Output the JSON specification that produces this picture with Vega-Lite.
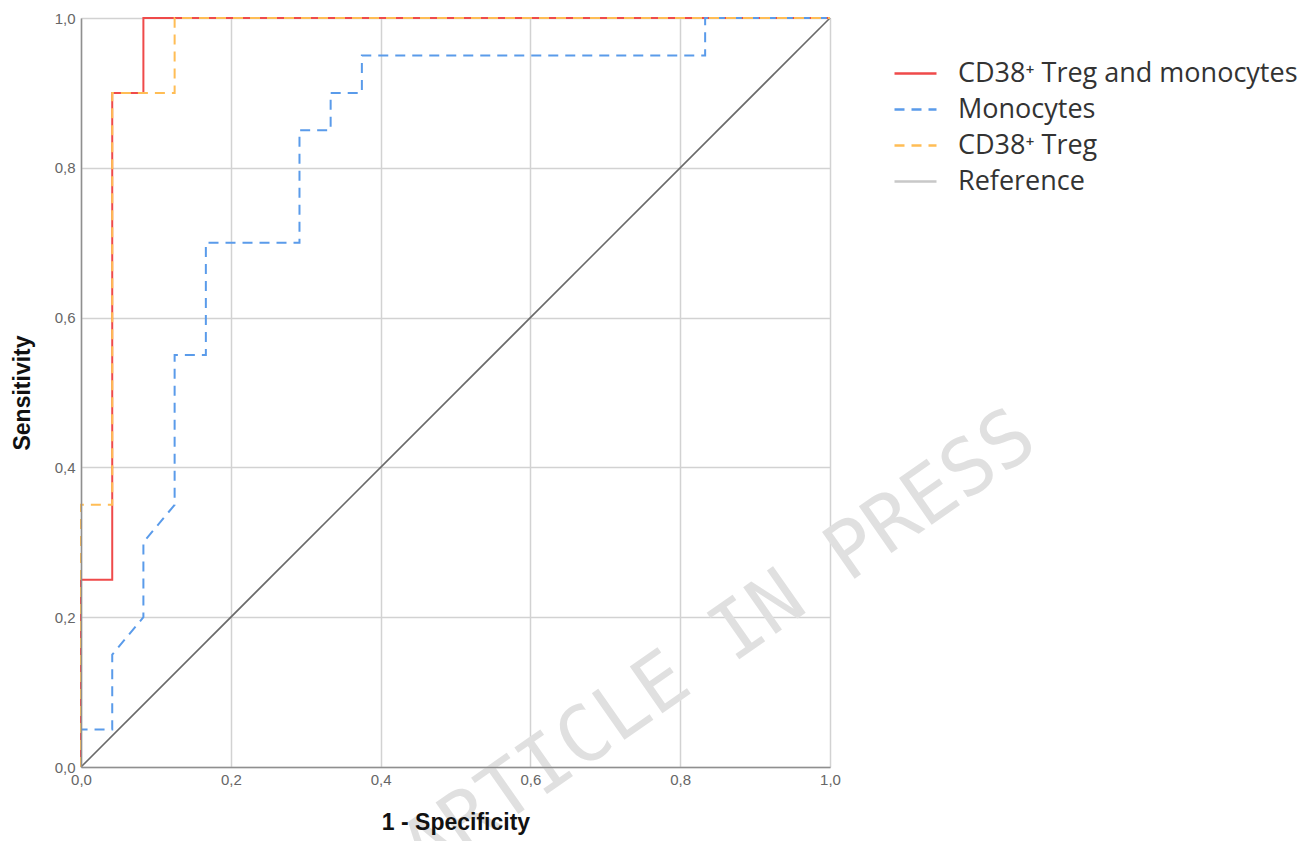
{
  "$schema": "https://vega.github.io/schema/vega-lite/v6.json",
  "width": 749,
  "height": 749,
  "autosize": {"type": "none"},
  "padding": {"left": 81, "top": 18, "right": 477, "bottom": 74},
  "background": "white",
  "config": {"view": {"stroke": null}, "font": "Liberation Sans"},
  "datasets": {
    "roc": [
      {"series": "CD38⁺ Treg and monocytes", "i": 0, "fpr": 0, "tpr": 0},
      {"series": "CD38⁺ Treg and monocytes", "i": 1, "fpr": 0, "tpr": 0.25},
      {"series": "CD38⁺ Treg and monocytes", "i": 2, "fpr": 0.0417, "tpr": 0.25},
      {"series": "CD38⁺ Treg and monocytes", "i": 3, "fpr": 0.0417, "tpr": 0.9},
      {"series": "CD38⁺ Treg and monocytes", "i": 4, "fpr": 0.0833, "tpr": 0.9},
      {"series": "CD38⁺ Treg and monocytes", "i": 5, "fpr": 0.0833, "tpr": 1},
      {"series": "CD38⁺ Treg and monocytes", "i": 6, "fpr": 1, "tpr": 1},
      {"series": "Monocytes", "i": 0, "fpr": 0, "tpr": 0},
      {"series": "Monocytes", "i": 1, "fpr": 0, "tpr": 0.05},
      {"series": "Monocytes", "i": 2, "fpr": 0.0417, "tpr": 0.05},
      {"series": "Monocytes", "i": 3, "fpr": 0.0417, "tpr": 0.15},
      {"series": "Monocytes", "i": 4, "fpr": 0.0833, "tpr": 0.2},
      {"series": "Monocytes", "i": 5, "fpr": 0.0833, "tpr": 0.3},
      {"series": "Monocytes", "i": 6, "fpr": 0.125, "tpr": 0.35},
      {"series": "Monocytes", "i": 7, "fpr": 0.125, "tpr": 0.55},
      {"series": "Monocytes", "i": 8, "fpr": 0.1667, "tpr": 0.55},
      {"series": "Monocytes", "i": 9, "fpr": 0.1667, "tpr": 0.7},
      {"series": "Monocytes", "i": 10, "fpr": 0.2917, "tpr": 0.7},
      {"series": "Monocytes", "i": 11, "fpr": 0.2917, "tpr": 0.85},
      {"series": "Monocytes", "i": 12, "fpr": 0.3333, "tpr": 0.85},
      {"series": "Monocytes", "i": 13, "fpr": 0.3333, "tpr": 0.9},
      {"series": "Monocytes", "i": 14, "fpr": 0.375, "tpr": 0.9},
      {"series": "Monocytes", "i": 15, "fpr": 0.375, "tpr": 0.95},
      {"series": "Monocytes", "i": 16, "fpr": 0.8333, "tpr": 0.95},
      {"series": "Monocytes", "i": 17, "fpr": 0.8333, "tpr": 1},
      {"series": "Monocytes", "i": 18, "fpr": 1, "tpr": 1},
      {"series": "CD38⁺ Treg", "i": 0, "fpr": 0, "tpr": 0},
      {"series": "CD38⁺ Treg", "i": 1, "fpr": 0, "tpr": 0.35},
      {"series": "CD38⁺ Treg", "i": 2, "fpr": 0.0417, "tpr": 0.35},
      {"series": "CD38⁺ Treg", "i": 3, "fpr": 0.0417, "tpr": 0.9},
      {"series": "CD38⁺ Treg", "i": 4, "fpr": 0.125, "tpr": 0.9},
      {"series": "CD38⁺ Treg", "i": 5, "fpr": 0.125, "tpr": 1},
      {"series": "CD38⁺ Treg", "i": 6, "fpr": 1, "tpr": 1},
      {"series": "Reference", "i": 0, "fpr": 0, "tpr": 0},
      {"series": "Reference", "i": 1, "fpr": 1, "tpr": 1}
    ],
    "mark": [{"label": "ARTICLE IN PRESS", "fpr": 0.853, "tpr": 0.163}]
  },
  "resolve": {"axis": {"x": "independent", "y": "independent"}},
  "layer": [
    {
      "data": {"name": "roc"},
      "transform": [{"filter": "datum.series === 'Reference'"}],
      "mark": {"type": "line", "stroke": "#6a6a6a", "strokeWidth": 1.6},
      "encoding": {
        "x": {"field": "fpr", "type": "quantitative", "scale": {"domain": [0, 1], "nice": false, "zero": false},
              "axis": {"orient": "top", "grid": true, "gridColor": "#d2d2d2", "gridWidth": 1.5, "values": [0, 0.2, 0.4, 0.6, 0.8, 1], "labels": false, "ticks": false, "domain": false, "title": null, "zindex": 0}},
        "y": {"field": "tpr", "type": "quantitative", "scale": {"domain": [0, 1], "nice": false, "zero": false},
              "axis": {"orient": "right", "grid": true, "gridColor": "#d2d2d2", "gridWidth": 1.5, "values": [0, 0.2, 0.4, 0.6, 0.8, 1], "labels": false, "ticks": false, "domain": false, "title": null, "zindex": 0}},
        "order": {"field": "i", "type": "quantitative"}
      }
    },
    {
      "data": {"name": "mark"},
      "mark": {"type": "text", "font": "DejaVu Sans Mono", "fontSize": 78, "angle": 325, "align": "center", "baseline": "middle", "fill": "#e0e0e0"},
      "encoding": {
        "x": {"field": "fpr", "type": "quantitative", "axis": null},
        "y": {"field": "tpr", "type": "quantitative", "axis": null},
        "text": {"field": "label"}
      }
    },
    {
      "data": {"name": "roc"},
      "transform": [{"filter": "datum.series === 'CD38⁺ Treg and monocytes'"}],
      "mark": {"type": "line", "strokeWidth": 2},
      "encoding": {
        "x": {"field": "fpr", "type": "quantitative",
              "axis": {"orient": "bottom", "grid": false, "values": [0, 0.2, 0.4, 0.6, 0.8, 1], "labelExpr": "replace(format(datum.value, '.1f'), '.', ',')", "labelFlush": false, "labelFont": "Liberation Sans", "labelFontSize": 15, "labelColor": "#666666", "labelPadding": 5, "ticks": false, "domainColor": "#8f8f8f", "domainWidth": 1.5, "title": "1 - Specificity", "titleFont": "Liberation Sans", "titleFontSize": 23, "titleFontWeight": "bold", "titleColor": "#111111", "titlePadding": 24, "zindex": 1}},
        "y": {"field": "tpr", "type": "quantitative",
              "axis": {"orient": "left", "grid": false, "values": [0, 0.2, 0.4, 0.6, 0.8, 1], "labelExpr": "replace(format(datum.value, '.1f'), '.', ',')", "labelFlush": false, "labelFont": "Liberation Sans", "labelFontSize": 15, "labelColor": "#666666", "labelPadding": 6, "ticks": false, "domainColor": "#8f8f8f", "domainWidth": 1.5, "title": "Sensitivity", "titleFont": "Liberation Sans", "titleFontSize": 23, "titleFontWeight": "bold", "titleColor": "#111111", "titlePadding": 20, "zindex": 1}},
        "order": {"field": "i", "type": "quantitative"},
        "color": {"field": "series", "type": "nominal", "title": null,
                  "scale": {"domain": ["CD38⁺ Treg and monocytes", "Monocytes", "CD38⁺ Treg", "Reference"], "range": ["#ef4a4a", "#5a9bea", "#ffbd55", "#c8c8c8"]},
                  "legend": {"orient": "none", "legendX": 818, "legendY": 39, "symbolType": "M-1.4,0H1.4", "symbolSize": 900, "symbolStrokeWidth": 2.5, "labelFont": "Open Sans", "labelFontSize": 27, "labelColor": "#333333", "labelOffset": 26, "rowPadding": 6, "padding": 0, "labelLimit": 420}},
        "strokeDash": {"field": "series", "type": "nominal", "title": null,
                  "scale": {"domain": ["CD38⁺ Treg and monocytes", "Monocytes", "CD38⁺ Treg", "Reference"], "range": [[1, 0], [10, 7], [10, 7], [1, 0]]}}
      }
    },
    {
      "data": {"name": "roc"},
      "transform": [{"filter": "datum.series === 'Monocytes'"}],
      "mark": {"type": "line", "strokeWidth": 2},
      "encoding": {
        "x": {"field": "fpr", "type": "quantitative", "axis": null},
        "y": {"field": "tpr", "type": "quantitative", "axis": null},
        "order": {"field": "i", "type": "quantitative"},
        "color": {"field": "series", "type": "nominal", "title": null},
        "strokeDash": {"field": "series", "type": "nominal", "title": null}
      }
    },
    {
      "data": {"name": "roc"},
      "transform": [{"filter": "datum.series === 'CD38⁺ Treg'"}],
      "mark": {"type": "line", "strokeWidth": 2},
      "encoding": {
        "x": {"field": "fpr", "type": "quantitative", "axis": null},
        "y": {"field": "tpr", "type": "quantitative", "axis": null},
        "order": {"field": "i", "type": "quantitative"},
        "color": {"field": "series", "type": "nominal", "title": null},
        "strokeDash": {"field": "series", "type": "nominal", "title": null}
      }
    }
  ]
}
